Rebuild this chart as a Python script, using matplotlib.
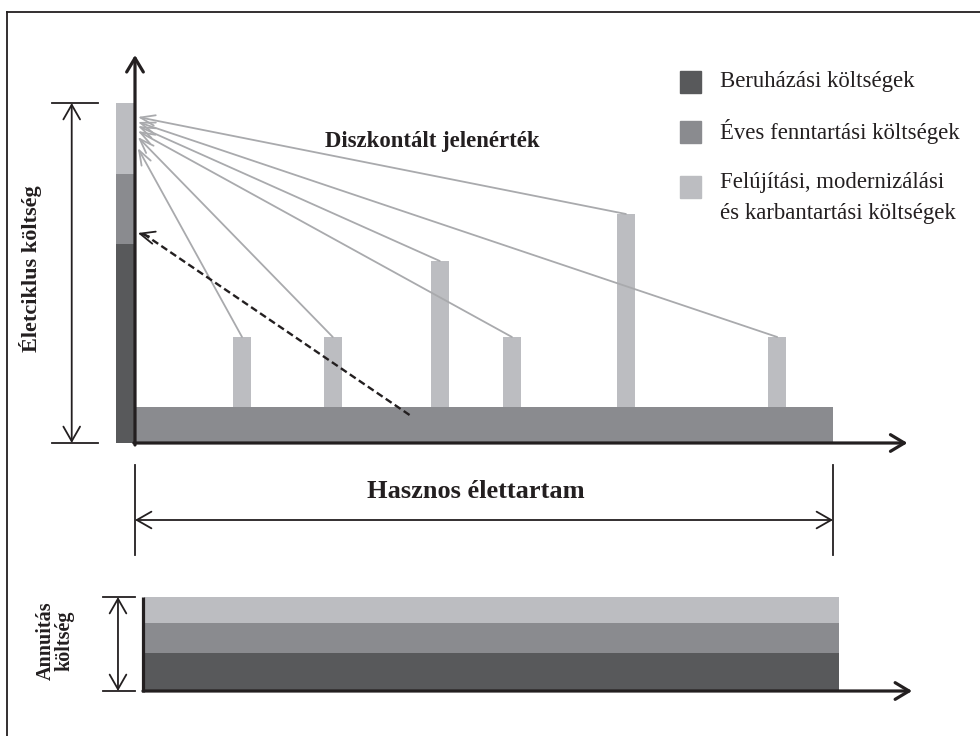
import matplotlib.pyplot as plt
from matplotlib.patches import Rectangle
from matplotlib.lines import Line2D

# data: x in years of useful life, y in cost units
useful_life = 30
renewal_years = [4.6, 8.5, 13.1, 16.2, 21.1, 27.6]
renewal_costs = [7.0, 7.0, 14.6, 7.0, 19.3, 7.0]
maintenance_cost = 3.6
pv_parts = [19.9, 7.0, 7.1]          # investment, maintenance, renewal (present value)
pv_tips = [29.5, 30.6, 31.7, 31.2, 32.6, 32.1]   # where each discount arrow lands
maint_pv_tip = 21.0
annuity_parts = [3.8, 3.0, 2.6]

labels = ['Beruházási költségek',
          'Éves fenntartási költségek',
          'Felújítási, modernizálási\nés karbantartási költségek']
colors = ['#58595b', '#8a8b8f', '#bcbdc1']
arrow_grey = '#a9aaad'
ink = '#231f20'

plt.rcParams['font.family'] = ['Liberation Serif', 'DejaVu Serif']

W, H = 980, 736
fig = plt.figure(figsize=(W / 100, H / 100), dpi=100)


def fpx(x, y):
    # pixel position -> figure fraction
    return x / W, 1 - y / H


# main chart axes, origin at pixel (135, 443)
xs, ys = 698 / useful_life, 10.0
ax = fig.add_axes([0, 0, 1, 1])
ax.set_xlim(-135 / xs, (W - 135) / xs)
ax.set_ylim((443 - H) / ys, 443 / ys)
ax.axis('off')

# maintenance band and renewal bars
ax.bar(0, maintenance_cost, width=useful_life, align='edge', color=colors[1], zorder=1)
ax.bar(renewal_years, renewal_costs, width=0.77, bottom=maintenance_cost,
       color=colors[2], zorder=1)

# present value stack left of the y axis
bottom = 0
for part, c in zip(pv_parts, colors):
    ax.bar(-0.8, part, width=0.74, align='edge', bottom=bottom, color=c, zorder=1)
    bottom += part
total_pv = bottom

# discount arrows
for yr, cost, tip in zip(renewal_years, renewal_costs, pv_tips):
    ax.annotate('', xy=(0.12, tip), xytext=(yr, maintenance_cost + cost),
                arrowprops=dict(arrowstyle='->,head_length=0.7,head_width=0.25',
                                mutation_scale=15, color=arrow_grey, lw=1.3,
                                shrinkA=0, shrinkB=0), zorder=2)

# dashed arrow for the maintenance present value
tail = (11.8, 2.8)
ax.plot([tail[0], 0.25], [tail[1], maint_pv_tip + 0.1], ls=(0, (3, 1.6)),
        color=ink, lw=1.7, zorder=3)
ax.annotate('', xy=(0.12, maint_pv_tip), xytext=(0.6, maint_pv_tip - 0.32),
            arrowprops=dict(arrowstyle='->,head_length=0.7,head_width=0.3',
                            mutation_scale=15, color=ink, lw=1.3,
                            shrinkA=0, shrinkB=0), zorder=3)

# axes with arrow heads
axis_style = dict(arrowstyle='->,head_length=0.5,head_width=0.3', mutation_scale=20,
                  color=ink, lw=2.3, shrinkA=0, shrinkB=0)
ax.annotate('', xy=(0, 38.8), xytext=(0, -0.2), arrowprops=axis_style, zorder=4)
ax.annotate('', xy=(33.2, 0), xytext=(-0.05, 0), arrowprops=axis_style, zorder=4)

# dimension lines
dim_style = dict(arrowstyle='<->,head_length=0.7,head_width=0.4', mutation_scale=15,
                 color=ink, lw=1.3, shrinkA=0, shrinkB=0)
ax.annotate('', xy=(-2.72, 0), xytext=(-2.72, total_pv), arrowprops=dim_style)
for yv in (0, total_pv):
    ax.plot([-3.57, -1.59], [yv, yv], color=ink, lw=1.3)
ax.annotate('', xy=(0, -7.7), xytext=(useful_life, -7.7), arrowprops=dim_style)
for xv in (0, useful_life):
    ax.plot([xv, xv], [-2.2, -11.2], color=ink, lw=1.3)

# annuity chart, origin at pixel (143, 691)
xs2 = 695 / useful_life
ax2 = fig.add_axes([0, 0, 1, 1])
ax2.set_xlim(-143 / xs2, (W - 143) / xs2)
ax2.set_ylim((691 - H) / ys, 691 / ys)
ax2.axis('off')
ax2.patch.set_alpha(0)

bottom = 0
for part, c in zip(annuity_parts, colors):
    ax2.bar(0.05, part, width=useful_life, align='edge', bottom=bottom, color=c, zorder=1)
    bottom += part
total_ann = bottom
ax2.plot([0, 0], [-0.1, total_ann], color=ink, lw=2.3, solid_capstyle='butt', zorder=4)
ax2.annotate('', xy=(33.2, 0), xytext=(0, 0), arrowprops=axis_style, zorder=4)
ax2.annotate('', xy=(-1.08, 0), xytext=(-1.08, total_ann), arrowprops=dim_style)
for yv in (0, total_ann):
    ax2.plot([-1.73, -0.35], [yv, yv], color=ink, lw=1.3)

# text labels
fig.text(*fpx(432, 142), 'Diszkontált jelenérték', fontsize=16.4, fontweight='bold',
         color=ink, ha='center', va='center')
fig.text(*fpx(476, 492), 'Hasznos élettartam', fontsize=19, fontweight='bold',
         color=ink, ha='center', va='center')
fig.text(*fpx(31, 269), 'Életciklus költség', fontsize=16, fontweight='bold',
         color=ink, ha='center', va='center', rotation=90)
fig.text(*fpx(55, 641), 'Annuitás\nköltség', fontsize=14.5, fontweight='bold',
         color=ink, ha='center', va='center', rotation=90, linespacing=0.9)

# legend
legend_y = [82, 132, 198]
for lab, c, yc in zip(labels, colors, legend_y):
    sq_y = yc + 11 if '\n' not in lab else 198
    fig.patches.append(Rectangle(fpx(680, sq_y), 21 / W, 22 / H, color=c,
                                 transform=fig.transFigure, figure=fig))
    fig.text(*fpx(720, yc), lab, fontsize=16.4, color=ink, ha='left', va='center',
             linespacing=1.6)

# frame (cut at right and bottom)
fig.lines.append(Line2D([7 / W, 1], [1 - 12 / H] * 2, color=ink, lw=1.3,
                        transform=fig.transFigure))
fig.lines.append(Line2D([7 / W] * 2, [1 - 12 / H, 0], color=ink, lw=1.3,
                        transform=fig.transFigure))

fig.savefig('out.png', dpi=100)
